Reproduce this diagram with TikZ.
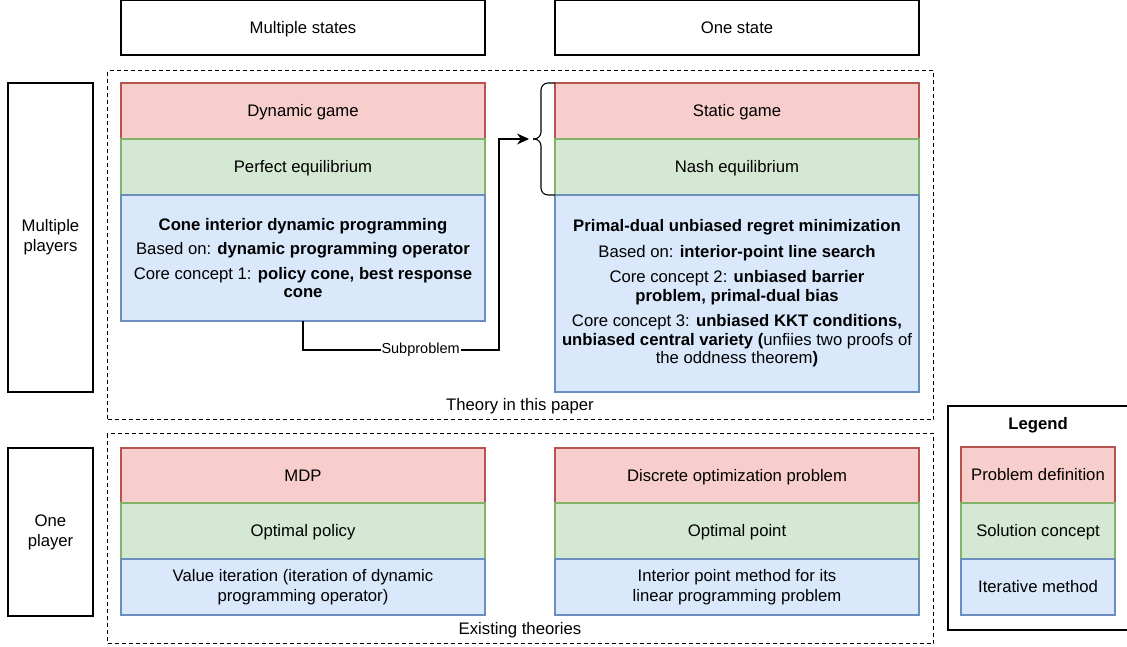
\documentclass[tikz,border=0pt]{standalone}
\usepackage{fontspec}
\setmainfont{Liberation Sans}
\usetikzlibrary{arrows.meta, positioning}

\definecolor{pdfill}{HTML}{F8CECC}
\definecolor{pdline}{HTML}{B85450}
\definecolor{scfill}{HTML}{D5E8D4}
\definecolor{scline}{HTML}{82B366}
\definecolor{imfill}{HTML}{DAE8FC}
\definecolor{imline}{HTML}{6C8EBF}

\begin{document}
\begin{tikzpicture}[
    x=1pt, y=-1pt,
    >={Stealth[length=12pt, width=11pt]},
    font=\fontsize{16.7}{20}\selectfont,
    box/.style={draw, line width=1.1pt, anchor=north west, align=center,
                inner sep=0pt, outer sep=0pt, minimum width=364pt},
    oneline/.style={text height=13pt, text depth=2pt},
    header/.style={box, oneline, draw=black, minimum height=55pt},
    probdef/.style={box, oneline, fill=pdfill, draw=pdline, minimum height=56pt},
    solconcept/.style={box, oneline, fill=scfill, draw=scline, minimum height=56pt},
    itermethod/.style={box, fill=imfill, draw=imline, minimum height=56pt},
    region/.style={draw, dash pattern=on 4pt off 3pt, line width=1pt,
                   anchor=north west, inner sep=0pt, minimum width=826pt},
    bodytext/.style={font=\fontsize{16.7}{18.5}\selectfont}
]

    \useasboundingbox (0,0) rectangle (1127,646);

    % Column and row headers
    \node[header] (hmulti) at (121,0) {Multiple states};
    \node[header] (hone) at (555,0) {One state};
    \node[box, draw=black, minimum width=85pt, minimum height=309pt] (rmulti) at (8,83) {Multiple\\players};
    \node[box, draw=black, minimum width=85pt, minimum height=168pt] (rone) at (8,448) {One\\player};

    % Dashed regions
    \node[region, minimum height=349pt] (theory) at (107,70) {};
    \node[region, minimum height=210pt] (existing) at (107,433) {};
    \node (theorylbl) at (520,406) {Theory in this paper};
    \node (existlbl) at (520,630) {Existing theories};

    % Multiple players, multiple states
    \node[probdef] (dyn1) at (121,83) {Dynamic game};
    \node[solconcept, below=0pt of dyn1] (dyn2) {Perfect equilibrium};
    \node[itermethod, bodytext, minimum height=126pt, below=0pt of dyn2] (dyn3) {%
        \textbf{Cone interior dynamic programming}\\[6pt]
        Based on: \textbf{dynamic programming operator}\\[6pt]
        Core concept 1: \textbf{policy cone, best response}\\
        \textbf{cone}};

    % Multiple players, one state
    \node[probdef] (sta1) at (555,83) {Static game};
    \node[solconcept, below=0pt of sta1] (sta2) {Nash equilibrium};
    \node[itermethod, bodytext, minimum height=197pt, below=0pt of sta2] (sta3) {%
        \textbf{Primal-dual unbiased regret minimization}\\[7pt]
        Based on: \textbf{interior-point line search}\\[7pt]
        Core concept 2: \textbf{unbiased barrier}\\
        \textbf{problem, primal-dual bias}\\[7pt]
        Core concept 3: \textbf{unbiased KKT conditions,}\\
        \textbf{unbiased central variety (}unfiies two proofs of\\
        the oddness theorem\textbf{)}};

    % One player
    \node[probdef, minimum height=55pt] (mdp1) at (121,448) {MDP};
    \node[solconcept, below=0pt of mdp1] (mdp2) {Optimal policy};
    \node[itermethod, below=0pt of mdp2] (mdp3) {Value iteration (iteration of dynamic\\programming operator)};
    \node[probdef, minimum height=55pt] (opt1) at (555,448) {Discrete optimization problem};
    \node[solconcept, below=0pt of opt1] (opt2) {Optimal point};
    \node[itermethod, below=0pt of opt2] (opt3) {Interior point method for its\\linear programming problem};

    % Brace around the static game and its equilibrium
    \coordinate (bracemid) at (541,139);
    \coordinate (bracetip) at (533,139);
    \draw[line width=1.1pt, rounded corners=7pt] (sta1.north west) -| (bracemid) -- (bracetip);
    \draw[line width=1.1pt, rounded corners=7pt] (bracetip) -- (bracemid) |- (sta2.south west);

    % Subproblem link
    \coordinate (turn) at (499,350);
    \draw[->, line width=1.1pt, shorten >=4pt] (dyn3.south) |- (turn)
        node[pos=0.8, fill=white, inner sep=1pt, font=\fontsize{14.5}{16}\selectfont] {Subproblem}
        |- (bracetip);

    % Legend
    \node[draw, line width=2pt, anchor=north west, minimum width=184pt, minimum height=224pt] (legend) at (947,405) {};
    \node[font=\fontsize{16.7}{20}\selectfont\bfseries] (legendlbl) at (1038,425) {Legend};
    \foreach \i/\fc/\lc/\txt in {0/pdfill/pdline/Problem definition,
                                 1/scfill/scline/Solution concept,
                                 2/imfill/imline/Iterative method} {
        \node[box, oneline, fill=\fc, draw=\lc, minimum width=154pt, minimum height=56pt] (leg\i) at (961,447+56*\i) {\txt};
    }

\end{tikzpicture}
\end{document}
